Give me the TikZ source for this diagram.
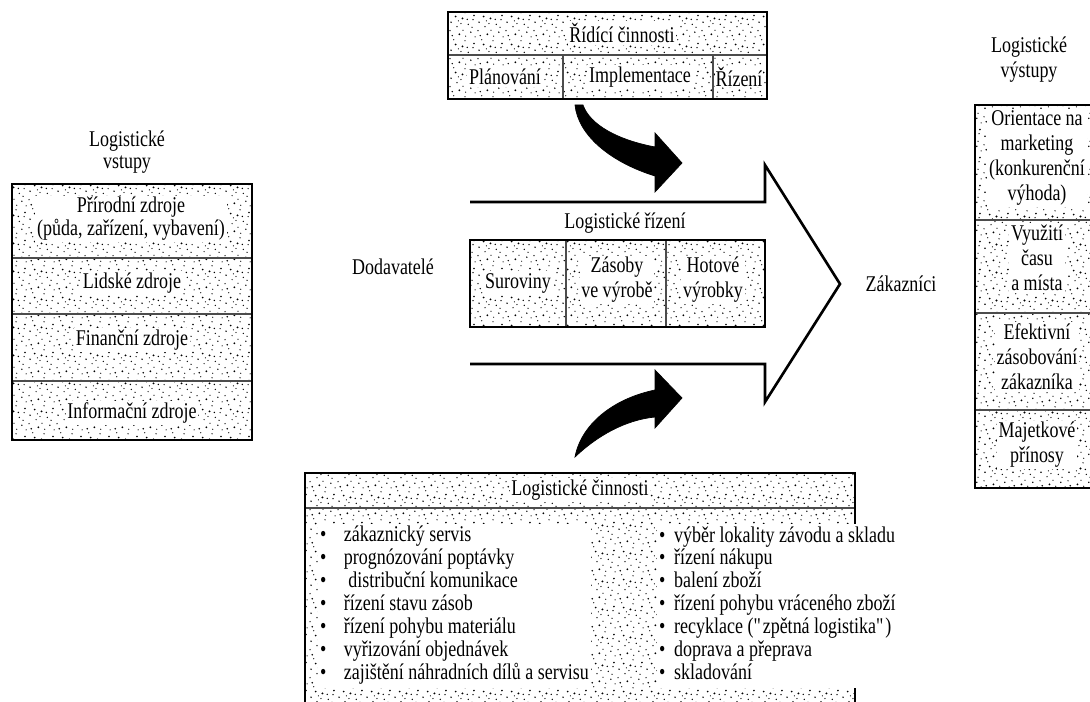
\documentclass[tikz,border=0pt]{standalone}
\usepackage{fontspec}
\setmainfont{Liberation Serif}[FakeStretch=0.8]
\usetikzlibrary{patterns, positioning}

% irregular speckle used as the background of the tables
\pgfdeclarepatternformonly{speckle}{\pgfpointorigin}{\pgfpoint{16pt}{16pt}}{\pgfpoint{16pt}{16pt}}{%
  \pgfpathcircle{\pgfpoint{1.2pt}{3.4pt}}{0.50pt}
  \pgfpathcircle{\pgfpoint{4.7pt}{0.8pt}}{0.38pt}
  \pgfpathcircle{\pgfpoint{7.9pt}{5.6pt}}{0.62pt}
  \pgfpathcircle{\pgfpoint{11.3pt}{2.1pt}}{0.42pt}
  \pgfpathcircle{\pgfpoint{14.6pt}{7.3pt}}{0.52pt}
  \pgfpathcircle{\pgfpoint{2.8pt}{9.5pt}}{0.36pt}
  \pgfpathcircle{\pgfpoint{6.1pt}{12.7pt}}{0.58pt}
  \pgfpathcircle{\pgfpoint{9.4pt}{8.9pt}}{0.40pt}
  \pgfpathcircle{\pgfpoint{12.8pt}{13.9pt}}{0.48pt}
  \pgfpathcircle{\pgfpoint{15.3pt}{11.2pt}}{0.36pt}
  \pgfpathcircle{\pgfpoint{0.6pt}{14.8pt}}{0.42pt}
  \pgfpathcircle{\pgfpoint{3.9pt}{6.7pt}}{0.55pt}
  \pgfpathcircle{\pgfpoint{8.2pt}{15.1pt}}{0.36pt}
  \pgfpathcircle{\pgfpoint{10.7pt}{5.0pt}}{0.45pt}
  \pgfpathcircle{\pgfpoint{13.5pt}{0.4pt}}{0.40pt}
  \pgfpathcircle{\pgfpoint{5.5pt}{4.2pt}}{0.36pt}
  \pgfpathcircle{\pgfpoint{1.9pt}{11.9pt}}{0.50pt}
  \pgfpathcircle{\pgfpoint{9.8pt}{11.6pt}}{0.36pt}
  \pgfpathcircle{\pgfpoint{14.1pt}{4.9pt}}{0.42pt}
  \pgfpathcircle{\pgfpoint{7.0pt}{2.6pt}}{0.38pt}
  \pgfusepath{fill}}

\newcommand{\dgfont}[1]{\fontsize{12.8}{#1}\selectfont}

\tikzset{
  % speckled table background
  speckled/.style={pattern=speckle, pattern color=black},
  % heavy outer frame of a table
  frameline/.style={draw=black, line width=1.6pt},
  % thin rule between cells
  cellrule/.style={draw=black!70, line width=0.7pt},
  % text sitting on the speckle
  celltext/.style={
    fill=white, inner sep=1pt, align=center,
    font=\dgfont{14.2}
  },
  % free standing text
  freetext/.style={
    inner sep=1pt, align=center,
    font=\dgfont{14.2}
  },
  % outline of the big flow arrow
  flowoutline/.style={draw=black, line width=1.5pt, line join=miter},
  % solid bent arrow
  bentarrow/.style={fill=black, draw=black, line width=0.4pt}
}

\begin{document}
\begin{tikzpicture}[x=0.02cm, y=-0.02cm]

  \useasboundingbox (0,0) rectangle (1090,702);
  \fill[white] (0,0) rectangle (1090,702);
  \clip (0,0) rectangle (1090,702);

  % ── Řídící činnosti (top) ────────────────────────────────────────────
  \path[speckled] (448,12) rectangle (767,99);
  \draw[cellrule] (448,55) -- (767,55);
  \draw[cellrule] (563,55) -- (563,99);
  \draw[cellrule] (713,55) -- (713,99);
  \draw[frameline] (448,12) rectangle (767,99);

  \node[celltext] (ridici) at (622,33) {Řídící činnosti};
  \node[celltext] (planovani) at (505,77) {Plánování};
  \node[celltext] (implementace) at (640,77) {Implementace};
  \node[celltext, inner sep=0.3pt] (rizeni) at (739,77) {Řízení};

  % ── Logistické vstupy (left) ─────────────────────────────────────────
  \node[freetext, font=\dgfont{12.2}] (vstupy_lbl)
        at (127,152) {Logistické\\vstupy};

  \path[speckled] (12,184) rectangle (252,440);
  \draw[cellrule] (12,258) -- (252,258);
  \draw[cellrule] (12,314) -- (252,314);
  \draw[cellrule] (12,381) -- (252,381);
  \draw[frameline] (12,184) rectangle (252,440);

  \node[celltext, font=\dgfont{11.5}] (prirodni)
        at (131,219) {Přírodní zdroje\\(půda, zařízení, vybavení)};
  \node[celltext] (lidske) at (132,283) {Lidské zdroje};
  \node[celltext] (financni) at (132,340) {Finanční zdroje};
  \node[celltext] (informacni) at (132,413) {Informační zdroje};

  % ── Flow: Dodavatelé -> Zákazníci ────────────────────────────────────
  \node[freetext] (dodavatele) at (393,267) {Dodavatelé};
  \node[freetext] (zakaznici) at (901,284) {Zákazníci};

  \draw[flowoutline]
        (470,202) -- (765,202) -- (765,165) -- (840,284)
        -- (765,402) -- (765,364) -- (470,364);

  \node[freetext] (rizeni_lbl) at (625,223) {Logistické řízení};

  \path[speckled] (470,240) rectangle (765,327);
  \draw[cellrule] (566,240) -- (566,327);
  \draw[cellrule] (666,240) -- (666,327);
  \draw[frameline] (470,240) rectangle (765,327);

  \node[celltext] (suroviny) at (518,283) {Suroviny};
  \node[celltext] (zasoby) at (617,280) {Zásoby\\ve výrobě};
  \node[celltext] (hotove) at (713,280) {Hotové\\výrobky};

  % ── Bent arrows into the flow ────────────────────────────────────────
  \filldraw[bentarrow]
        (575,105) .. controls (578,135) and (610,162) .. (655,176)
        -- (655,192) -- (682,163) -- (655,133) -- (655,147)
        .. controls (618,140) and (590,125) .. (583,105) -- cycle;
  \filldraw[bentarrow]
        (575,457) .. controls (581,425) and (612,399) .. (655,390)
        -- (655,370) -- (682,398) -- (655,428) -- (655,417)
        .. controls (625,420) and (597,436) .. (575,457) -- cycle;

  % ── Logistické činnosti (bottom) ─────────────────────────────────────
  \path[speckled] (305,473) rectangle (855,730);
  \draw[cellrule] (305,508) -- (855,508);
  \draw[frameline] (305,473) rectangle (855,730);

  \node[celltext] (cinnosti) at (580,490) {Logistické činnosti};

  \node[celltext, anchor=west, font=\dgfont{13}] (list_left) at (318,606)
  {\begin{tabular}{@{}c@{\hspace{10pt}}l@{}}
    • & zákaznický servis\\
    • & prognózování poptávky\\
    • & \ distribuční komunikace\\
    • & řízení stavu zásob\\
    • & řízení pohybu materiálu\\
    • & vyřizování objednávek\\
    • & zajištění náhradních dílů a servisu
  \end{tabular}};

  \node[celltext, anchor=west, font=\dgfont{13}] (list_right) at (657,606)
  {\begin{tabular}{@{}c@{\hspace{5pt}}l@{}}
    • & výběr lokality závodu a skladu\\
    • & řízení nákupu\\
    • & balení zboží\\
    • & řízení pohybu vráceného zboží\\
    • & recyklace (\textquotedbl zpětná logistika\textquotedbl)\\
    • & doprava a přeprava\\
    • & skladování
  \end{tabular}};

  % ── Logistické výstupy (right) ───────────────────────────────────────
  \node[freetext] (vystupy_lbl) at (1029,60) {Logistické\\výstupy};

  \path[speckled] (975,105) rectangle (1110,488);
  \draw[cellrule] (975,220) -- (1110,220);
  \draw[cellrule] (975,313) -- (1110,313);
  \draw[cellrule] (975,410) -- (1110,410);
  \draw[frameline] (975,105) rectangle (1110,488);

  \node[celltext] (orientace) at (1037,158)
        {Orientace na\\marketing\\(konkurenční\\výhoda)};
  \node[celltext] (vyuziti) at (1037,258) {Využití\\času\\a místa};
  \node[celltext] (efektivni) at (1037,357) {Efektivní\\zásobování\\zákazníka};
  \node[celltext] (majetkove) at (1037,445) {Majetkové\\přínosy};

\end{tikzpicture}
\end{document}
